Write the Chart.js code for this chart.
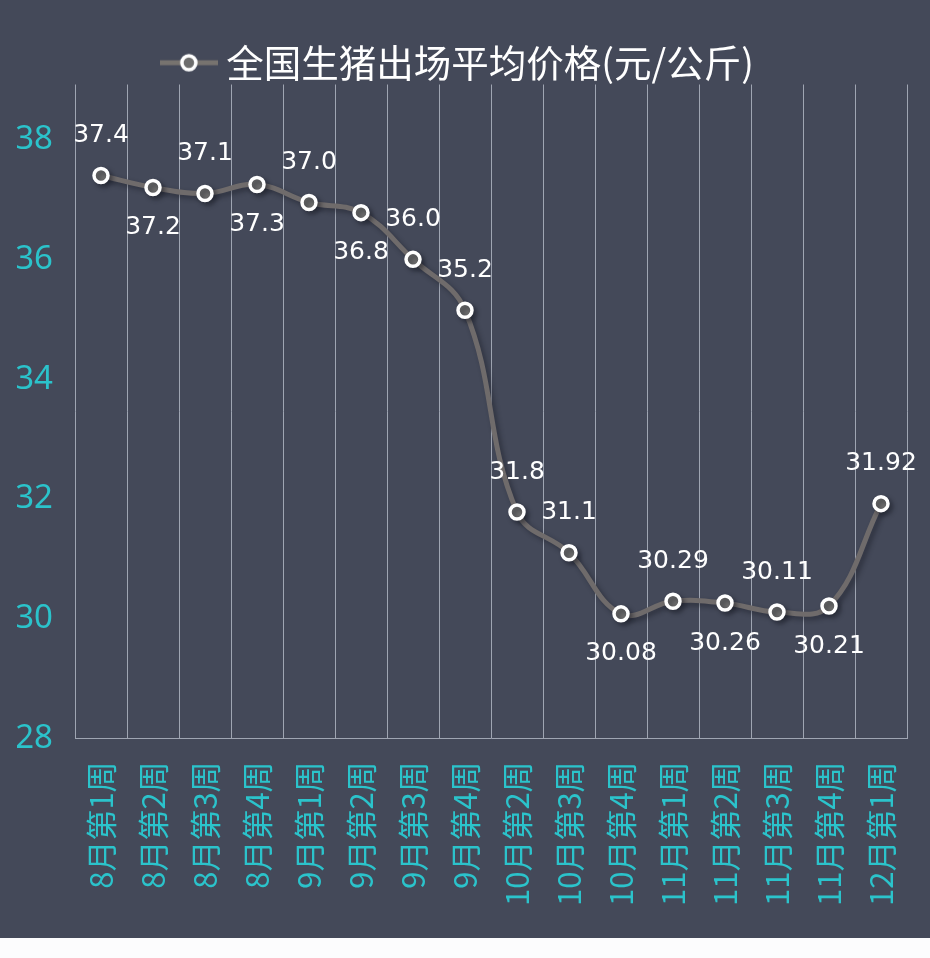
<!DOCTYPE html>
<html>
<head>
<meta charset="utf-8">
<script src="https://cdn.jsdelivr.net/npm/chart.js@4.4.1/dist/chart.umd.min.js"></script>
<style>
    html, body { margin: 0; padding: 0; background: #fcfcfd; }
    #wrap { width: 930px; height: 938px; background: #444959; }
</style>
</head>
<body>
<div id="wrap"><canvas id="c" width="930" height="938"></canvas></div>
<script>
// 全国生猪出场平均价格 — weekly
const weeks = ["8月第1周", "8月第2周", "8月第3周", "8月第4周", "9月第1周", "9月第2周", "9月第3周", "9月第4周",
    "10月第2周", "10月第3周", "10月第4周", "11月第1周", "11月第2周", "11月第3周", "11月第4周", "12月第1周"];
const prices = [37.4, 37.2, 37.1, 37.25, 36.95, 36.78, 36.0, 35.15, 31.78, 31.1, 30.08, 30.29, 30.26, 30.11, 30.21, 31.92];
const priceLabels = ["37.4", "37.2", "37.1", "37.3", "37.0", "36.8", "36.0", "35.2", "31.8", "31.1", "30.08", "30.29", "30.26", "30.11", "30.21", "31.92"];
// 1 = label above point, -1 = below
const labelSide = [1, -1, 1, -1, 1, -1, 1, 1, 1, 1, -1, 1, -1, 1, -1, 1];
const yTicks = [28, 30, 32, 34, 36, 38];

const TEAL = "#2bc3cb";
const LINE = "#6f6b6b";

// legend marker: short line with a ringed dot
function legendMarker() {
    const cv = document.createElement("canvas");
    cv.width = 58; cv.height = 22;
    const g = cv.getContext("2d");
    g.strokeStyle = "#77736f";
    g.lineWidth = 5;
    g.beginPath(); g.moveTo(0, 11); g.lineTo(58, 11); g.stroke();
    g.beginPath(); g.arc(29, 11, 7, 0, Math.PI * 2);
    g.fillStyle = "#6d6d6d"; g.fill();
    g.lineWidth = 3.5; g.strokeStyle = "#ffffff"; g.stroke();
    return cv;
}

// legend box is a bit too tall by default
const tightLegend = {
    id: "tightLegend",
    beforeUpdate(chart) {
        const lg = chart.legend;
        if (lg && !lg._tight) {
            const fit = lg.fit.bind(lg);
            lg.fit = function () { fit(); this.height -= 7; };
            lg._tight = true;
        }
    }
};

const shadowPlugin = {
    id: "lineShadow",
    beforeDatasetsDraw(chart) {
        const ctx = chart.ctx;
        ctx.save();
        ctx.shadowColor = "rgba(20, 22, 30, 0.45)";
        ctx.shadowBlur = 5;
        ctx.shadowOffsetX = 3;
        ctx.shadowOffsetY = 3;
    },
    afterDatasetsDraw(chart) {
        chart.ctx.restore();
    }
};

const valueLabels = {
    id: "valueLabels",
    afterDatasetsDraw(chart) {
        const ctx = chart.ctx;
        const meta = chart.getDatasetMeta(0);
        ctx.save();
        ctx.font = "25px 'DejaVu Sans'";
        ctx.fillStyle = "#ffffff";
        ctx.textAlign = "center";
        ctx.textBaseline = "middle";
        meta.data.forEach((pt, i) => {
            ctx.fillText(priceLabels[i], pt.x, pt.y - labelSide[i] * 40);
        });
        ctx.restore();
    }
};

new Chart(document.getElementById("c"), {
    type: "line",
    data: {
        labels: weeks,
        datasets: [{
            label: "全国生猪出场平均价格(元/公斤)",
            data: prices,
            borderColor: LINE,
            borderWidth: 5,
            tension: 0.4,
            pointRadius: 7,
            pointBorderWidth: 3.5,
            pointBorderColor: "#ffffff",
            pointBackgroundColor: "#6d6d6d",
            pointStyle: "circle"
        }]
    },
    options: {
        responsive: false,
        animation: false,
        layout: { padding: { top: 42, left: 17, right: 23, bottom: 9 } },
        plugins: {
            tooltip: { enabled: false },
            legend: {
                display: true,
                labels: {
                    color: "#ffffff",
                    font: { family: "'Noto Sans CJK SC'", size: 37.5, lineHeight: 1 },
                    usePointStyle: true,
                    generateLabels(chart) {
                        return [{
                            text: chart.data.datasets[0].label,
                            pointStyle: legendMarker(),
                            fontColor: "#ffffff",
                            datasetIndex: 0
                        }];
                    },
                    padding: 2
                }
            }
        },
        scales: {
            x: {
                offset: true,
                afterFit(scale) {
                    scale.paddingLeft = 0;
                    scale.paddingRight = 0;
                },
                grid: {
                    offset: true,
                    color: "rgba(190, 196, 208, 0.75)",
                    lineWidth: 1,
                    drawTicks: false
                },
                border: { color: "rgba(190, 196, 208, 0.75)" },
                ticks: {
                    color: TEAL,
                    font: { family: "'Noto Sans CJK SC'", size: 31 },
                    minRotation: 90,
                    maxRotation: 90,
                    padding: 23,
                    autoSkip: false
                }
            },
            y: {
                min: 28,
                max: 38.92,
                afterBuildTicks(scale) {
                    scale.ticks = yTicks.map(v => ({ value: v }));
                },
                afterFit(scale) {
                    scale.width = 58;
                },
                grid: { display: false, drawTicks: false },
                border: { display: false },
                ticks: {
                    color: TEAL,
                    font: { family: "'Noto Sans'", size: 33 },
                    padding: 22
                }
            }
        }
    },
    plugins: [tightLegend, shadowPlugin, valueLabels]
});
</script>
</body>
</html>
